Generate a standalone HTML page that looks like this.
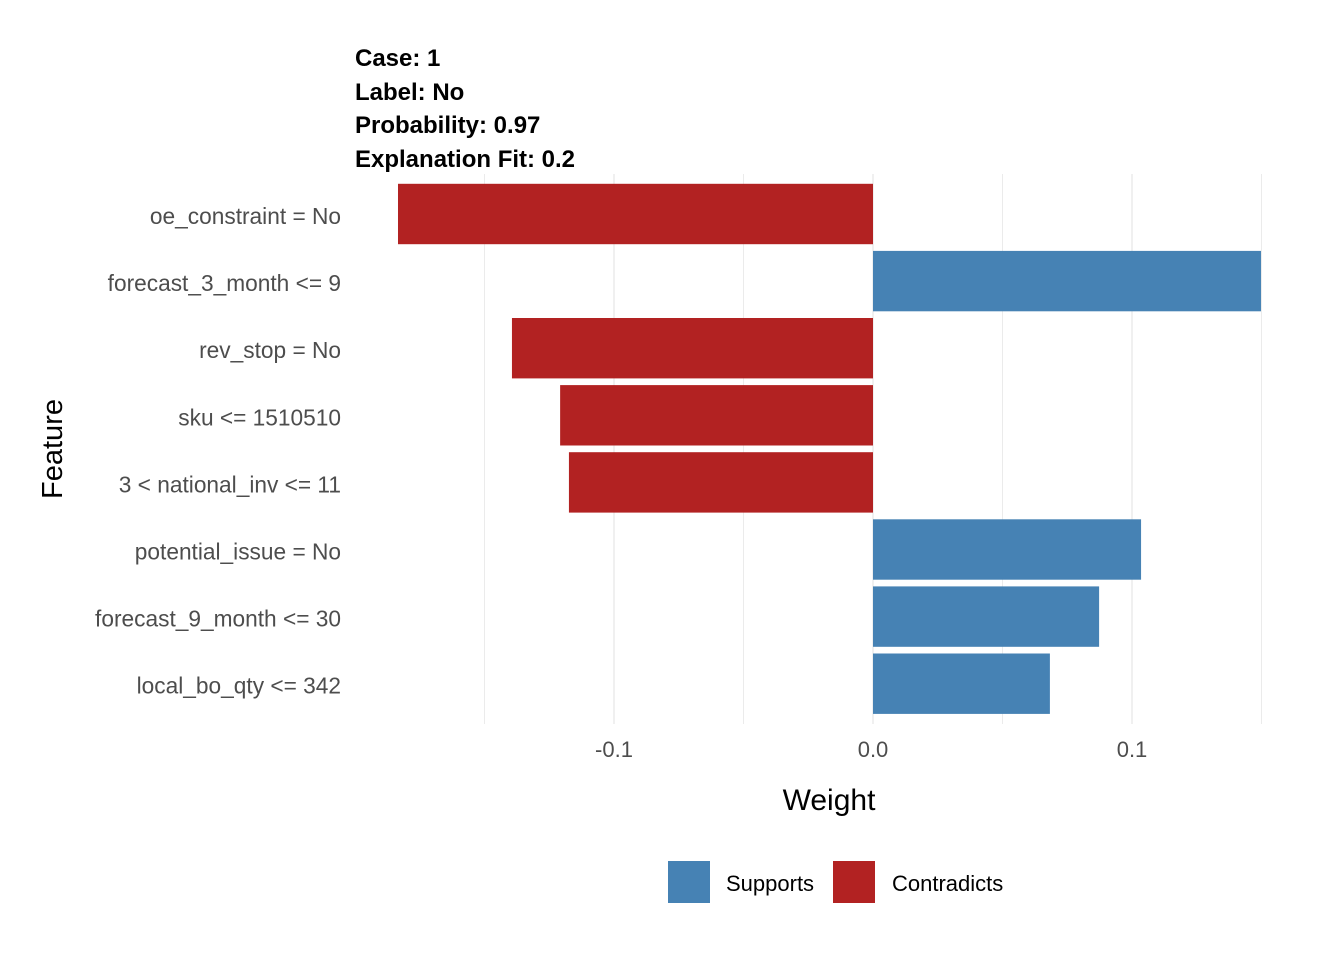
<!DOCTYPE html>
<html><head><meta charset="utf-8"><style>
body{margin:0;background:#fff;}
svg text{font-family:"Liberation Sans",Arial,sans-serif;}
</style></head><body>
<svg id="chart" width="1344" height="960" viewBox="0 0 1344 960">
<g font-weight="bold" font-size="24" fill="#000">
<text x="355" y="66">Case: 1</text>
<text x="355" y="100">Label: No</text>
<text x="355" y="133">Probability: 0.97</text>
<text x="355" y="167">Explanation Fit: 0.2</text>
</g>
<g id="grid"></g>
<g id="bars"></g>
<g id="ylabels"></g>
<g id="xlabels"></g>
<text x="829" y="810" text-anchor="middle" font-size="30" fill="#000">Weight</text>
<text transform="translate(62,449) rotate(-90)" text-anchor="middle" font-size="29" fill="#000">Feature</text>
<g>
<rect x="668" y="861" width="42" height="42" fill="#4682B4"/>
<text x="726" y="891" font-size="22" fill="#000">Supports</text>
<rect x="833" y="861" width="42" height="42" fill="#B22222"/>
<text x="892" y="891" font-size="22" fill="#000">Contradicts</text>
</g>
</svg>
<script>
const features = ["oe_constraint = No","forecast_3_month <= 9","rev_stop = No","sku <= 1510510","3 < national_inv <= 11","potential_issue = No","forecast_9_month <= 30","local_bo_qty <= 342"];
const weights = [-0.1834, 0.1498, -0.1394, -0.1208, -0.1174, 0.1035, 0.0873, 0.0683];
const xTicks = [-0.1, 0.0, 0.1];
const xTickLabels = ["-0.1","0.0","0.1"];
const xMinor = [-0.15, -0.05, 0.05, 0.15];

const NS = "http://www.w3.org/2000/svg";
const xScale = v => 873 + v * 2590;
const band = 67.1;
const yScale = i => 214 + i * band;
const panelTop = 174, panelBottom = 724;
function mk(tag, attrs, parent){const e=document.createElementNS(NS,tag);for(const k in attrs)e.setAttribute(k,attrs[k]);parent.appendChild(e);return e;}
const grid=document.getElementById('grid'), bars=document.getElementById('bars'), yl=document.getElementById('ylabels'), xl=document.getElementById('xlabels');
xMinor.forEach(v=>{
  const l=mk('line',{x1:xScale(v),x2:xScale(v),y1:panelTop,y2:panelBottom,stroke:'#ebebeb','stroke-width':1},grid);
  
  
});
xTicks.forEach((v,i)=>{
  const l=mk('line',{x1:xScale(v),x2:xScale(v),y1:panelTop,y2:panelBottom,stroke:'#ebebeb','stroke-width':1.5},grid);
  
  
  const t=mk('text',{x:xScale(v),y:757,'text-anchor':'middle','font-size':22,fill:'#4d4d4d'},xl);
  t.textContent=xTickLabels[i];
  
  
});
features.forEach((f,i)=>{
  const w=weights[i];
  const x0=Math.min(xScale(0),xScale(w)), x1=Math.max(xScale(0),xScale(w));
  const r=mk('rect',{x:x0,y:yScale(i)-30.2,width:x1-x0,height:60.4,fill:w>=0?'#4682B4':'#B22222'},bars);
  
  
  const t=mk('text',{x:341,y:yScale(i)+10,'text-anchor':'end','font-size':22.7,fill:'#4d4d4d'},yl);
  t.textContent=f;
  
  
});
</script>
</body></html>
